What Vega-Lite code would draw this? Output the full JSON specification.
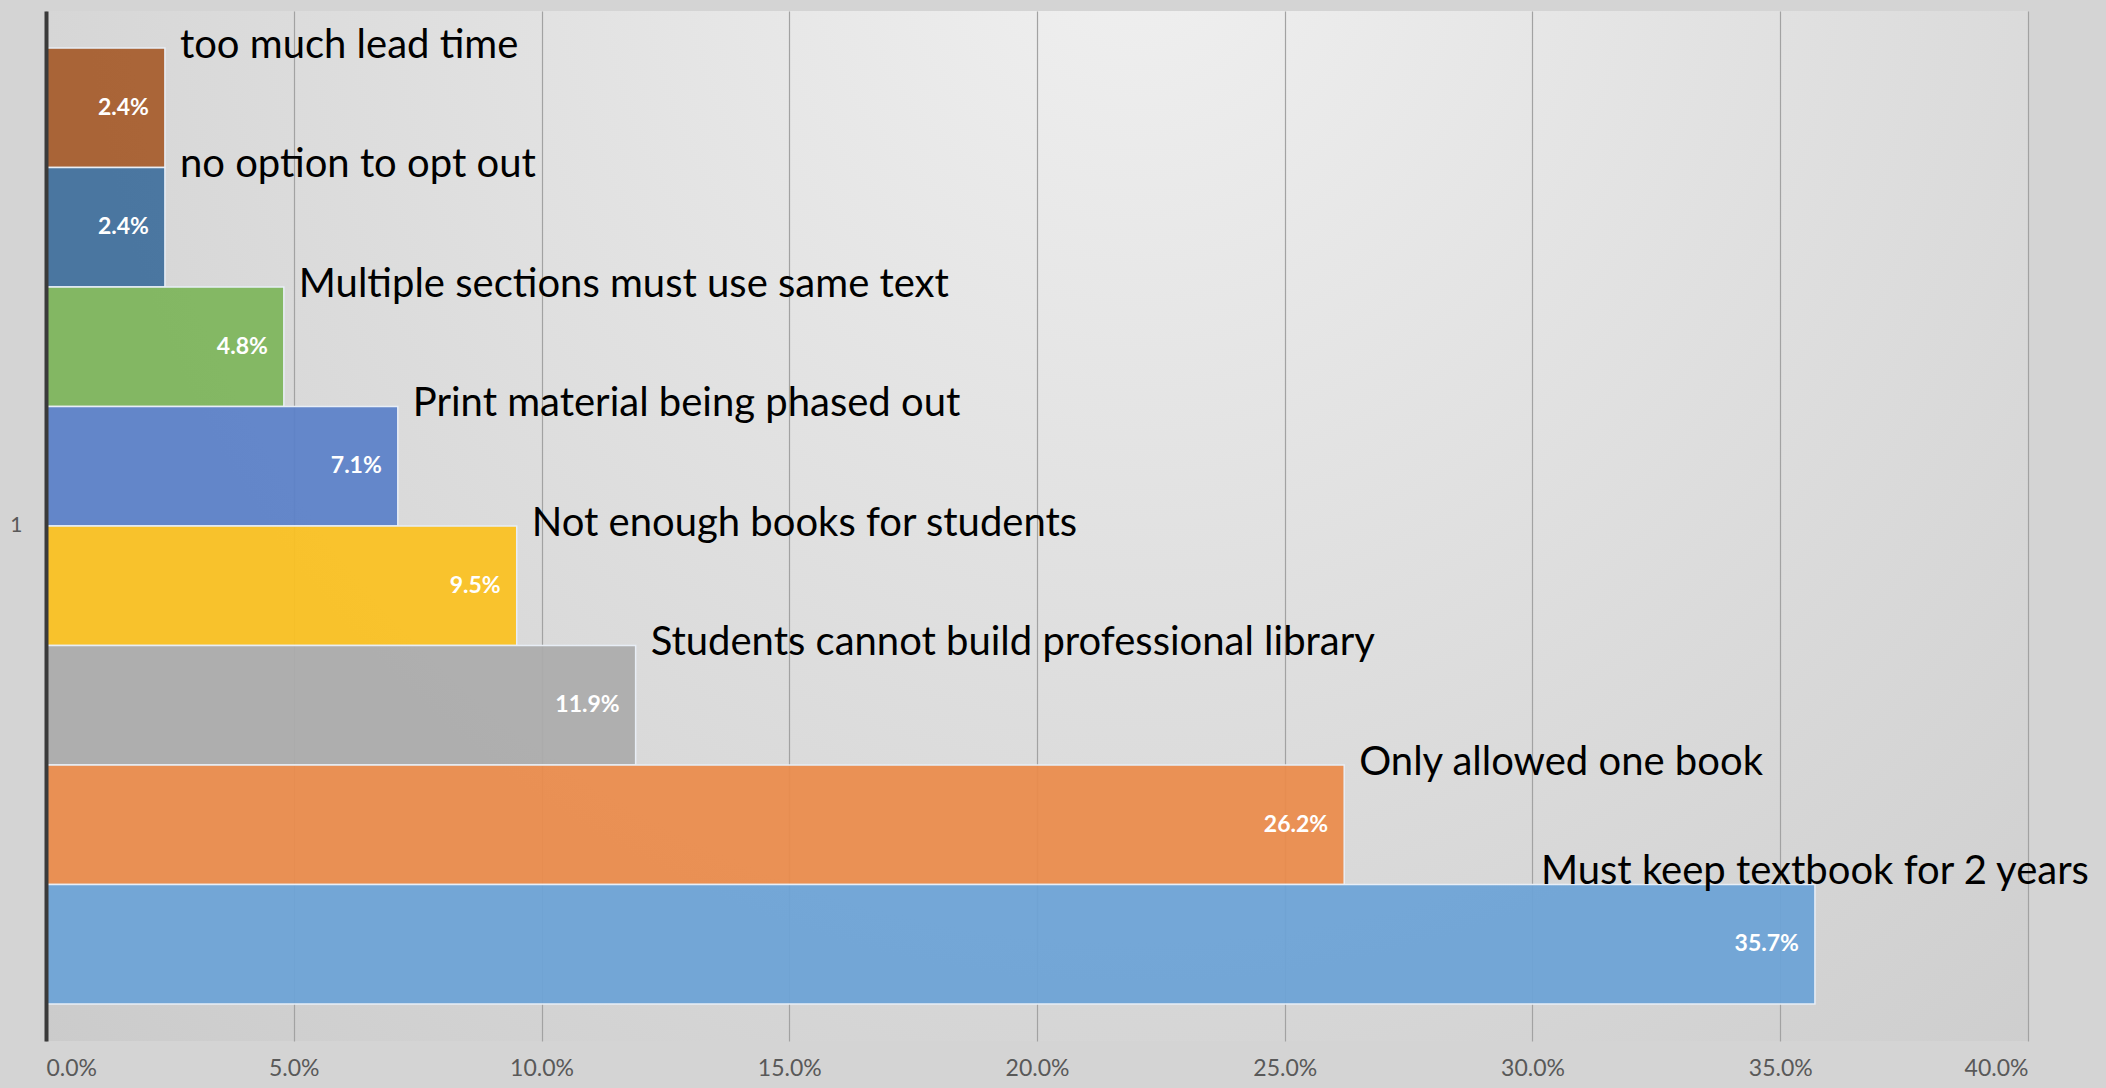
{
  "$schema": "https://vega.github.io/schema/vega-lite/v6.json",
  "width": 1982,
  "height": 1030,
  "autosize": {"type": "none"},
  "padding": {"left": 46, "top": 11, "right": 78, "bottom": 47},
  "background": "#d4d4d4",
  "config": {
    "view": {
      "stroke": null,
      "fill": {
        "gradient": "radial",
        "x1": 0.55, "y1": 0.2, "r1": 0,
        "x2": 0.55, "y2": 0.2, "r2": 0.85,
        "stops": [
          {"offset": 0, "color": "#f0f0f0"},
          {"offset": 1, "color": "#c8c8c8"}
        ]
      }
    },
    "font": "Lato"
  },
  "data": {
    "values": [
      {"cat": "1", "series": "too much lead time", "value": 0.024},
      {"cat": "1", "series": "no option to opt out", "value": 0.024},
      {"cat": "1", "series": "Multiple sections must use same text", "value": 0.048},
      {"cat": "1", "series": "Print material being phased out", "value": 0.071},
      {"cat": "1", "series": "Not enough books for students", "value": 0.095},
      {"cat": "1", "series": "Students cannot build professional library", "value": 0.119},
      {"cat": "1", "series": "Only allowed one book", "value": 0.262},
      {"cat": "1", "series": "Must keep textbook for 2 years", "value": 0.357}
    ]
  },
  "encoding": {
    "y": {
      "field": "cat", "type": "nominal",
      "scale": {"paddingInner": 0, "paddingOuter": 0.0387},
      "axis": {
        "title": null, "ticks": false, "grid": false,
        "domain": true, "domainColor": "#3a3a3a", "domainWidth": 4,
        "labelColor": "#595959", "labelFontSize": 21, "labelPadding": 24,
        "labelFont": "Lato", "zindex": 2
      }
    },
    "yOffset": {
      "field": "series", "type": "nominal",
      "sort": [
        "too much lead time", "no option to opt out",
        "Multiple sections must use same text", "Print material being phased out",
        "Not enough books for students", "Students cannot build professional library",
        "Only allowed one book", "Must keep textbook for 2 years"
      ],
      "scale": {"paddingInner": 0, "paddingOuter": 0}
    },
    "x": {
      "field": "value", "type": "quantitative",
      "scale": {"domain": [0, 0.4], "nice": false},
      "axis": {
        "title": null, "format": ".1%",
        "values": [0, 0.05, 0.1, 0.15, 0.2, 0.25, 0.3, 0.35, 0.4],
        "domain": false, "ticks": false, "grid": true,
        "gridColor": "#a2a2a2", "gridWidth": 1.2,
        "labelColor": "#595959", "labelFontSize": 23, "labelPadding": 16,
        "labelFont": "Lato"
      }
    }
  },
  "layer": [
    {
      "mark": {"type": "bar", "stroke": "#e8eef6", "strokeWidth": 1.5, "fillOpacity": 0.93},
      "encoding": {
        "color": {
          "field": "series", "type": "nominal", "legend": null,
          "scale": {
            "domain": [
              "too much lead time", "no option to opt out",
              "Multiple sections must use same text", "Print material being phased out",
              "Not enough books for students", "Students cannot build professional library",
              "Only allowed one book", "Must keep textbook for 2 years"
            ],
            "range": ["#A65B2B", "#3F6F9C", "#7DB55A", "#5A80C8", "#FBC11F", "#ABABAB", "#EB8B4A", "#6CA3D6"]
          }
        }
      }
    },
    {
      "mark": {"type": "text", "align": "right", "baseline": "middle", "dx": -16, "color": "white", "fontWeight": "bold", "fontSize": 23, "font": "Lato"},
      "encoding": {
        "text": {"field": "value", "type": "quantitative", "format": ".1%"}
      }
    },
    {
      "transform": [{"filter": "datum.value < 0.3"}],
      "mark": {"type": "text", "align": "left", "baseline": "middle", "dx": 15, "dy": -62, "color": "black", "fontSize": 40, "font": "Lato"},
      "encoding": {
        "text": {"field": "series", "type": "nominal"}
      }
    },
    {
      "transform": [{"filter": "datum.value >= 0.3"}],
      "mark": {"type": "text", "align": "center", "baseline": "middle", "dx": 0, "dy": -72, "color": "black", "fontSize": 40, "font": "Lato"},
      "encoding": {
        "text": {"field": "series", "type": "nominal"}
      }
    }
  ]
}
